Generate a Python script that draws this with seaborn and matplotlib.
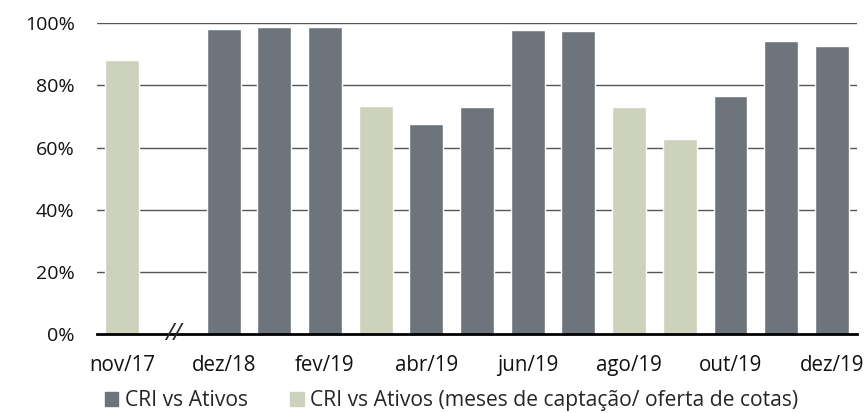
import numpy as np
import pandas as pd
import matplotlib
matplotlib.use("Agg")
import matplotlib.pyplot as plt
import seaborn as sns

# data (% of CRI vs Ativos)
months = ["nov/17", "gap", "dez/18", "jan/19", "fev/19", "mar/19", "abr/19", "mai/19",
          "jun/19", "jul/19", "ago/19", "set/19", "out/19", "nov/19", "dez/19"]
values = [88.1, np.nan, 98.0, 98.8, 98.7, 73.5, 67.5, 73.0,
          97.8, 97.5, 73.0, 62.7, 76.5, 94.1, 92.7]
groups = ["capt", "ativos", "ativos", "ativos", "ativos", "capt", "ativos", "ativos",
          "ativos", "ativos", "capt", "capt", "ativos", "ativos", "ativos"]
tick_labels = ["nov/17", "", "dez/18", "", "fev/19", "", "abr/19", "",
               "jun/19", "", "ago/19", "", "out/19", "", "dez/19"]
legend_labels = {"ativos": "CRI vs Ativos",
                 "capt": "CRI vs Ativos (meses de captação/ oferta de cotas)"}

df = pd.DataFrame({"month": months, "value": values, "group": groups})

sns.set_style("white")
plt.rcParams["font.family"] = ["Open Sans", "DejaVu Sans"]

colors = {"ativos": "#6d747b", "capt": "#ccd2bb"}

fig = plt.figure(figsize=(8.65, 4.13), dpi=100)
ax = fig.add_axes([0.112, 0.191, 0.879, 0.753])

sns.barplot(data=df, x="month", y="value", hue="group", order=months,
            hue_order=["ativos", "capt"], palette=colors, dodge=False,
            width=0.67, ax=ax, legend=False, saturation=1)

ax.set_ylim(0, 100)
ax.set_xlim(-0.5, len(months) - 0.5)
ax.set_yticks([0, 20, 40, 60, 80, 100])
ax.set_yticklabels([f"{v}%" for v in [0, 20, 40, 60, 80, 100]])
ax.set_xticks(range(len(months)))
ax.set_xticklabels(tick_labels)
ax.tick_params(axis="both", length=0, colors="#111111")
ax.tick_params(axis="x", pad=15, labelsize=14.8)
ax.tick_params(axis="y", pad=16, labelsize=14)
ax.set_xlabel("")
ax.set_ylabel("")

for y in [20, 40, 60, 80, 100]:
    ax.axhline(y, color="#555555", lw=1.0, zorder=0)
ax.set_axisbelow(True)

for s in ["top", "right", "left"]:
    ax.spines[s].set_visible(False)
ax.spines["bottom"].set_color("black")
ax.spines["bottom"].set_linewidth(2)

# axis break mark
ax.text(1, 0, "//", ha="center", va="center", fontsize=17, style="italic",
        transform=ax.get_xaxis_transform(), clip_on=False)

handles = [plt.Rectangle((0, 0), 1, 1, color=colors[k]) for k in ["ativos", "capt"]]
fig.legend(handles, [legend_labels["ativos"], legend_labels["capt"]],
           loc="center left", bbox_to_anchor=(0.121, 0.03), ncol=2, frameon=False,
           fontsize=15.2, handlelength=0.65, handleheight=0.65, handletextpad=0.3,
           columnspacing=2.0, borderaxespad=0.0, borderpad=0.0)

plt.savefig("out.png", dpi=100)
